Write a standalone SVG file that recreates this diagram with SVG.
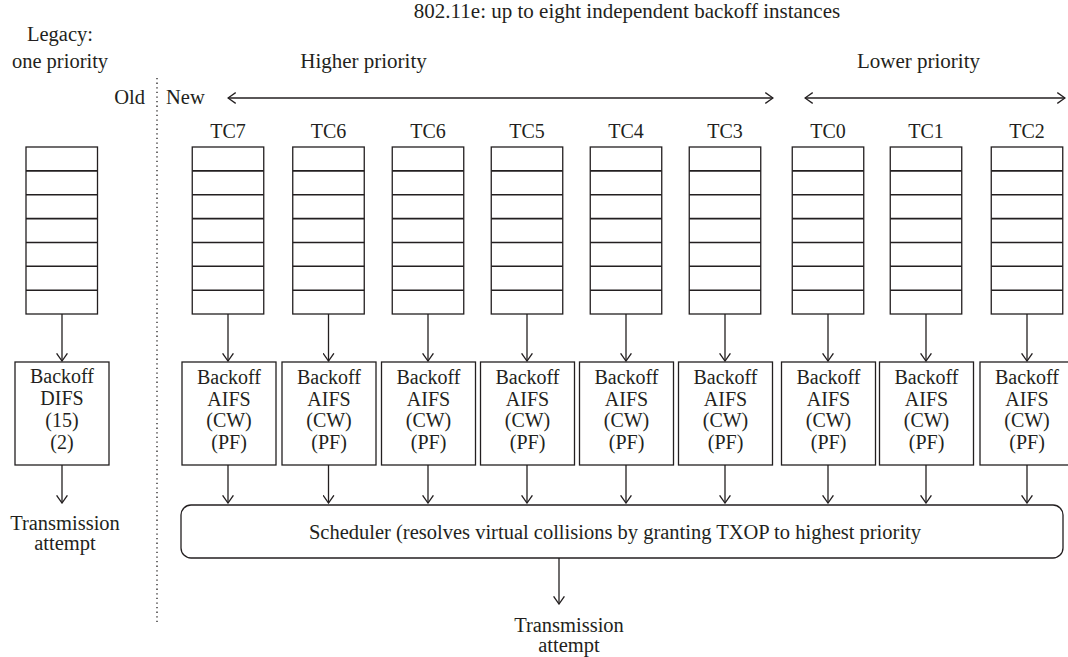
<svg xmlns="http://www.w3.org/2000/svg" xmlns:xlink="http://www.w3.org/1999/xlink" width="1068" height="657" viewBox="0 0 1068 657">
<style>
.t{font-family:"Liberation Serif","Times New Roman",serif;font-size:20.5px;fill:#231f20}
.tb{font-size:20px}
.tl{font-size:21px}
.m{text-anchor:middle}
.box{fill:#fff;stroke:#231f20;stroke-width:1.3}
.div{fill:none;stroke:#231f20;stroke-width:1.6}
.arr{fill:none;stroke:#231f20;stroke-width:1.3;marker-end:url(#ah)}
.darr{fill:none;stroke:#231f20;stroke-width:1.3;marker-end:url(#ah);marker-start:url(#ah)}
.dot{fill:none;stroke:#231f20;stroke-width:1.3;stroke-dasharray:1.3 3.3}
</style>
<defs>
<marker id="ah" viewBox="0 0 9 12" refX="8.3" refY="6" markerWidth="9" markerHeight="12" markerUnits="userSpaceOnUse" orient="auto-start-reverse">
<path d="M0.6,0.6 L8.3,6 L0.6,11.4" fill="none" stroke="#231f20" stroke-width="1.3"/>
</marker>
<g id="queue">
<rect x="0" y="0" width="71.5" height="167" class="box"/>
<path class="div" d="M0,23.9H71.5M0,47.8H71.5M0,71.6H71.5M0,95.5H71.5M0,119.3H71.5M0,143.2H71.5"/>
</g>
<g id="bo">
<rect x="-47" y="0" width="94" height="103" class="box"/>
<text class="t tb m" x="0" y="22">Backoff</text>
<text class="t tb m" x="0" y="43.5">AIFS</text>
<text class="t tb m" x="0" y="65">(CW)</text>
<text class="t tb m" x="0" y="86.5">(PF)</text>
</g>
</defs>

<g id="labels">
<text class="t tl m" x="627" y="18">802.11e: up to eight independent backoff instances</text>
<text class="t m" x="60" y="41">Legacy:</text>
<text class="t m" x="60" y="68">one priority</text>
<text class="t tl m" x="363.5" y="68">Higher priority</text>
<text class="t tl m" x="918.5" y="68">Lower priority</text>
<text class="t" x="145" y="104" text-anchor="end">Old</text>
<text class="t" x="166" y="104">New</text>
</g>

<g id="divider">
<line class="dot" x1="157" y1="78" x2="157" y2="624"/>
</g>

<g id="legacy-queue"><use xlink:href="#queue" href="#queue" transform="translate(26,147)"/></g>
<g id="legacy-backoff">
<rect x="15" y="362" width="94" height="103" class="box"/>
<text class="t tb m" x="62" y="383">Backoff</text>
<text class="t tb m" x="62" y="404.5">DIFS</text>
<text class="t tb m" x="62" y="427">(15)</text>
<text class="t tb m" x="62" y="449">(2)</text>
</g>
<g id="legacy-tx">
<text class="t m" x="65" y="530">Transmission</text>
<text class="t m" x="65" y="550">attempt</text>
</g>

<g id="q-tc7"><text class="t tb m" x="228" y="138">TC7</text><use xlink:href="#queue" href="#queue" transform="translate(192.25,147)"/></g>
<g id="q-tc6a"><text class="t tb m" x="328.5" y="138">TC6</text><use xlink:href="#queue" href="#queue" transform="translate(292.75,147)"/></g>
<g id="q-tc6b"><text class="t tb m" x="428" y="138">TC6</text><use xlink:href="#queue" href="#queue" transform="translate(392.25,147)"/></g>
<g id="q-tc5"><text class="t tb m" x="527" y="138">TC5</text><use xlink:href="#queue" href="#queue" transform="translate(491.25,147)"/></g>
<g id="q-tc4"><text class="t tb m" x="626" y="138">TC4</text><use xlink:href="#queue" href="#queue" transform="translate(590.25,147)"/></g>
<g id="q-tc3"><text class="t tb m" x="725" y="138">TC3</text><use xlink:href="#queue" href="#queue" transform="translate(689.25,147)"/></g>
<g id="q-tc0"><text class="t tb m" x="828" y="138">TC0</text><use xlink:href="#queue" href="#queue" transform="translate(792.25,147)"/></g>
<g id="q-tc1"><text class="t tb m" x="926" y="138">TC1</text><use xlink:href="#queue" href="#queue" transform="translate(890.25,147)"/></g>
<g id="q-tc2"><text class="t tb m" x="1027" y="138">TC2</text><use xlink:href="#queue" href="#queue" transform="translate(991.25,147)"/></g>

<g id="b-tc7"><use xlink:href="#bo" href="#bo" transform="translate(229,362)"/></g>
<g id="b-tc6a"><use xlink:href="#bo" href="#bo" transform="translate(329,362)"/></g>
<g id="b-tc6b"><use xlink:href="#bo" href="#bo" transform="translate(428.5,362)"/></g>
<g id="b-tc5"><use xlink:href="#bo" href="#bo" transform="translate(527.5,362)"/></g>
<g id="b-tc4"><use xlink:href="#bo" href="#bo" transform="translate(626.5,362)"/></g>
<g id="b-tc3"><use xlink:href="#bo" href="#bo" transform="translate(725.5,362)"/></g>
<g id="b-tc0"><use xlink:href="#bo" href="#bo" transform="translate(828.5,362)"/></g>
<g id="b-tc1"><use xlink:href="#bo" href="#bo" transform="translate(926.5,362)"/></g>
<g id="b-tc2"><use xlink:href="#bo" href="#bo" transform="translate(1027,362)"/></g>

<g id="scheduler">
<rect x="181" y="505" width="882" height="53" rx="10" ry="10" class="box"/>
<text class="t m" x="615" y="539">Scheduler (resolves virtual collisions by granting TXOP to highest priority</text>
</g>

<g id="tx">
<text class="t m" x="569" y="632">Transmission</text>
<text class="t m" x="569" y="652">attempt</text>
</g>

<g id="connectors">
<line class="darr" x1="228" y1="98" x2="773" y2="98"/>
<line class="darr" x1="805" y1="98" x2="1065" y2="98"/>
<line class="arr" x1="62" y1="314" x2="62" y2="361"/>
<line class="arr" x1="62" y1="465" x2="62" y2="503"/>
<line class="arr" x1="228" y1="314" x2="228" y2="361"/>
<line class="arr" x1="328.5" y1="314" x2="328.5" y2="361"/>
<line class="arr" x1="428" y1="314" x2="428" y2="361"/>
<line class="arr" x1="527" y1="314" x2="527" y2="361"/>
<line class="arr" x1="626" y1="314" x2="626" y2="361"/>
<line class="arr" x1="725" y1="314" x2="725" y2="361"/>
<line class="arr" x1="828" y1="314" x2="828" y2="361"/>
<line class="arr" x1="926" y1="314" x2="926" y2="361"/>
<line class="arr" x1="1027" y1="314" x2="1027" y2="361"/>
<line class="arr" x1="228" y1="465" x2="228" y2="503"/>
<line class="arr" x1="328.5" y1="465" x2="328.5" y2="503"/>
<line class="arr" x1="428" y1="465" x2="428" y2="503"/>
<line class="arr" x1="527" y1="465" x2="527" y2="503"/>
<line class="arr" x1="626" y1="465" x2="626" y2="503"/>
<line class="arr" x1="725" y1="465" x2="725" y2="503"/>
<line class="arr" x1="828" y1="465" x2="828" y2="503"/>
<line class="arr" x1="926" y1="465" x2="926" y2="503"/>
<line class="arr" x1="1027" y1="465" x2="1027" y2="503"/>
<line class="arr" x1="559" y1="558" x2="559" y2="604"/>
</g>
</svg>
